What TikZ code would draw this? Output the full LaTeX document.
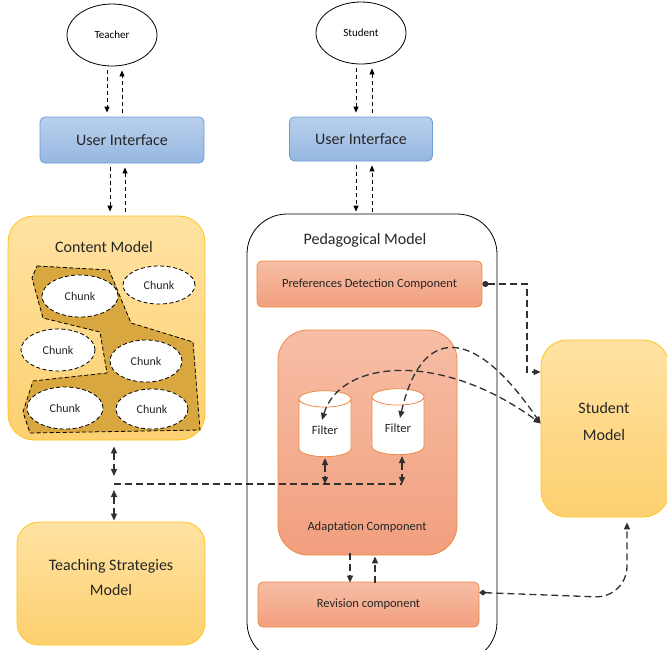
\documentclass[tikz,border=0pt]{standalone}
\usepackage{fontspec}
\setmainfont{Carlito}
\usepackage{tikz}
\usetikzlibrary{arrows.meta, shapes.geometric}

\definecolor{uiTop}{HTML}{B9D0EC}
\definecolor{uiBot}{HTML}{96B7E1}
\definecolor{uiEdge}{HTML}{6C9DD6}
\definecolor{ylwTop}{HTML}{FFE2A2}
\definecolor{ylwBot}{HTML}{FDD070}
\definecolor{ylwEdge}{HTML}{FFC31A}
\definecolor{goldArea}{HTML}{D8A740}
\definecolor{salTop}{HTML}{F6BEA5}
\definecolor{salBot}{HTML}{F29F7E}
\definecolor{salEdge}{HTML}{EE8846}
\definecolor{inkGray}{HTML}{262626}
\definecolor{lineGray}{HTML}{303030}

\tikzset{
  actor/.style={ellipse, draw=black, thick, fill=white, minimum width=90pt, minimum height=62pt, font=\fontsize{11}{12}\selectfont},
  uibox/.style={rectangle, rounded corners=5pt, draw=uiEdge, thick, top color=uiTop, bottom color=uiBot, text=inkGray, font=\fontsize{16}{18}\selectfont},
  modelbox/.style={rectangle, rounded corners=22pt, draw=ylwEdge, thick, top color=ylwTop, bottom color=ylwBot, text=inkGray, font=\fontsize{16}{25}\selectfont},
  pedbox/.style={rectangle, rounded corners=40pt, draw=black, thick, fill=white},
  compbox/.style={rectangle, rounded corners=5pt, draw=salEdge, thick, top color=salTop, bottom color=salBot, text=inkGray, font=\fontsize{12.5}{14}\selectfont},
  adabox/.style={rectangle, rounded corners=30pt, draw=salEdge, thick, top color=salTop, bottom color=salBot},
  titletext/.style={text=inkGray, font=\fontsize{16}{18}\selectfont},
  comptext/.style={text=inkGray, font=\fontsize{12.5}{14}\selectfont},
  chunk/.style={ellipse, draw=black, thick, dash pattern=on 4pt off 2.5pt, fill=white, text=inkGray, font=\fontsize{12}{14}\selectfont},
  filterdb/.style={cylinder, shape border rotate=90, aspect=0.5, draw=salEdge, thick, fill=white, minimum width=52pt, minimum height=66pt, text=inkGray, font=\fontsize{12.5}{14}\selectfont},
  thinflow/.style={draw=black, line width=0.8pt, dash pattern=on 4pt off 3pt, -{Triangle[length=6pt,width=5pt]}},
  flow/.style={draw=lineGray, line width=1.3pt, dash pattern=on 7pt off 4pt, -{Triangle[length=7pt,width=6pt]}},
  bothflow/.style={draw=lineGray, line width=1.3pt, dash pattern=on 7pt off 4pt, {Triangle[length=7pt,width=6pt]}-{Triangle[length=7pt,width=6pt]}},
}

\begin{document}
\begin{tikzpicture}[x=1pt, y=-1pt]
    \clip (0,0) rectangle (667,649);
    \fill[white] (0,0) rectangle (667,649);

    % users and interfaces
    \node (teacher) at (112,35) [actor] {Teacher};
    \node (student) at (361,33) [actor] {Student};
    \node (uiT) at (122,140) [uibox, minimum width=164pt, minimum height=46pt] {User Interface};
    \node (uiS) at (361,139) [uibox, minimum width=143pt, minimum height=44pt] {User Interface};

    % content model with chunks
    \node (cntM) at (106.5,328) [modelbox, rounded corners=26pt, minimum width=197pt, minimum height=224pt] {};
    \node (cntT) at (104,247) [titletext] {Content Model};
    \draw[goldArea, fill=goldArea] (37,266) -- (109,270) -- (131,323) -- (193,342) -- (200,430) -- (30,433)
        -- (23,412) -- (33,381) -- (107,373) -- (100,332) -- (43,318) -- (32,278) -- cycle;
    \draw[black, thick, dash pattern=on 4pt off 2.5pt] (37,266) -- (109,270) -- (131,323) -- (193,342) -- (200,430) -- (30,433)
        -- (23,412) -- (33,381) -- (107,373) -- (100,332) -- (43,318) -- (32,278) -- cycle;
    \node (chunkA) at (80,296) [chunk, minimum width=76pt, minimum height=42pt] {Chunk};
    \node (chunkB) at (159,285) [chunk, minimum width=72pt, minimum height=38pt] {Chunk};
    \node (chunkC) at (58,350) [chunk, minimum width=74pt, minimum height=42pt] {Chunk};
    \node (chunkD) at (146,361) [chunk, minimum width=72pt, minimum height=42pt] {Chunk};
    \node (chunkE) at (65,408) [chunk, minimum width=76pt, minimum height=42pt] {Chunk};
    \node (chunkF) at (152,409) [chunk, minimum width=72pt, minimum height=40pt] {Chunk};

    \node (tsM) at (111,583.5) [modelbox, minimum width=188pt, minimum height=123pt, align=center] {};
    \node (tsT) at (111,577) [titletext, align=center, font=\fontsize{16}{25}\selectfont] {Teaching Strategies\\Model};

    % pedagogical model
    \node (pedM) at (372,438) [pedbox, minimum width=250pt, minimum height=448pt] {};
    \node (pedT) at (365,240) [titletext] {Pedagogical Model};
    \node (prefD) at (369.5,284) [compbox, minimum width=225pt, minimum height=46pt] {Preferences Detection Component};
    \node (adaC) at (367.5,442.5) [adabox, minimum width=179pt, minimum height=225pt] {};
    \node (adaT) at (367,527) [comptext] {Adaptation Component};
    \node (fltL) at (325,430) [filterdb] {Filter};
    \node (fltR) at (398,428) [filterdb] {Filter};
    \node (revC) at (368.5,604.5) [compbox, minimum width=221pt, minimum height=45pt] {Revision component};

    \node (stuM) at (605,428.5) [modelbox, rounded corners=26pt, minimum width=128pt, minimum height=177pt] {};
    \node (stuT) at (604,421) [titletext, align=center, font=\fontsize{16}{27}\selectfont] {Student\\Model};

    \coordinate (junc) at (114,484);
    \coordinate (prefBend) at (527,372);
    \coordinate (revBend) at (627,598);

    % connectors
    \draw[thinflow] ([xshift=-5pt,yshift=-4pt]teacher.south) -- ([xshift=-15pt,yshift=4pt]uiT.north);
    \draw[thinflow] ([yshift=4pt]uiT.north) -- ([xshift=10pt,yshift=-4pt]teacher.south);
    \draw[thinflow] ([xshift=-5pt,yshift=-4pt]student.south) -- ([xshift=-5pt,yshift=4pt]uiS.north);
    \draw[thinflow] ([xshift=11pt,yshift=4pt]uiS.north) -- ([xshift=11pt,yshift=-4pt]student.south);
    \draw[thinflow] ([xshift=-12pt,yshift=-4pt]uiT.south) -- ([xshift=3.5pt,yshift=4pt]cntM.north);
    \draw[thinflow] ([xshift=18.5pt,yshift=4pt]cntM.north) -- ([xshift=3pt,yshift=-4pt]uiT.south);
    \draw[thinflow] ([xshift=-5pt,yshift=-4pt]uiS.south) -- ([xshift=-16pt,yshift=2pt]pedM.north);
    \draw[thinflow] ([xshift=0pt,yshift=2pt]pedM.north) -- ([xshift=11pt,yshift=-4pt]uiS.south);

    \draw[bothflow] ([yshift=-6pt]cntM.south -| junc) -- ([yshift=8pt]junc);
    \draw[bothflow] ([yshift=-6pt]junc) -- ([yshift=1pt]tsM.north -| junc);
    \draw[flow, -] (junc) -- ([xshift=4pt]fltR.south |- junc);
    \draw[bothflow] ([yshift=-1pt]fltL.south) -- (fltL.south |- junc);
    \draw[bothflow] ([xshift=4pt,yshift=-1pt]fltR.south) -- ([xshift=4pt]fltR.south |- junc);

    \draw[flow] ([xshift=-17.5pt,yshift=2pt]adaC.south) -- ([xshift=-18.5pt,yshift=-1pt]revC.north);
    \draw[flow] ([xshift=6.5pt,yshift=-1pt]revC.north) -- ([xshift=7.5pt,yshift=-1pt]adaC.south);

    \draw[flow, {Circle[length=6pt]}-{Triangle[length=7pt,width=6pt]}] (prefD.east) -| (prefBend) -- (prefBend -| stuM.west);
    \draw[flow, rounded corners=32pt, {Diamond[length=7pt,width=6pt]}-{Triangle[length=7pt,width=6pt]}]
        ([yshift=12pt]revC.east) -- (revBend) -- ([xshift=22pt,yshift=-5pt]stuM.south);

    \draw[bothflow] ([xshift=2pt,yshift=10pt]fltR.center) .. controls (420,330) and (470,320) .. ([yshift=5pt]stuM.west);
    \draw[bothflow] ([xshift=-3pt,yshift=10pt]fltL.center) .. controls (340,360) and (440,350) .. ([yshift=5pt]stuM.west);
\end{tikzpicture}
\end{document}
